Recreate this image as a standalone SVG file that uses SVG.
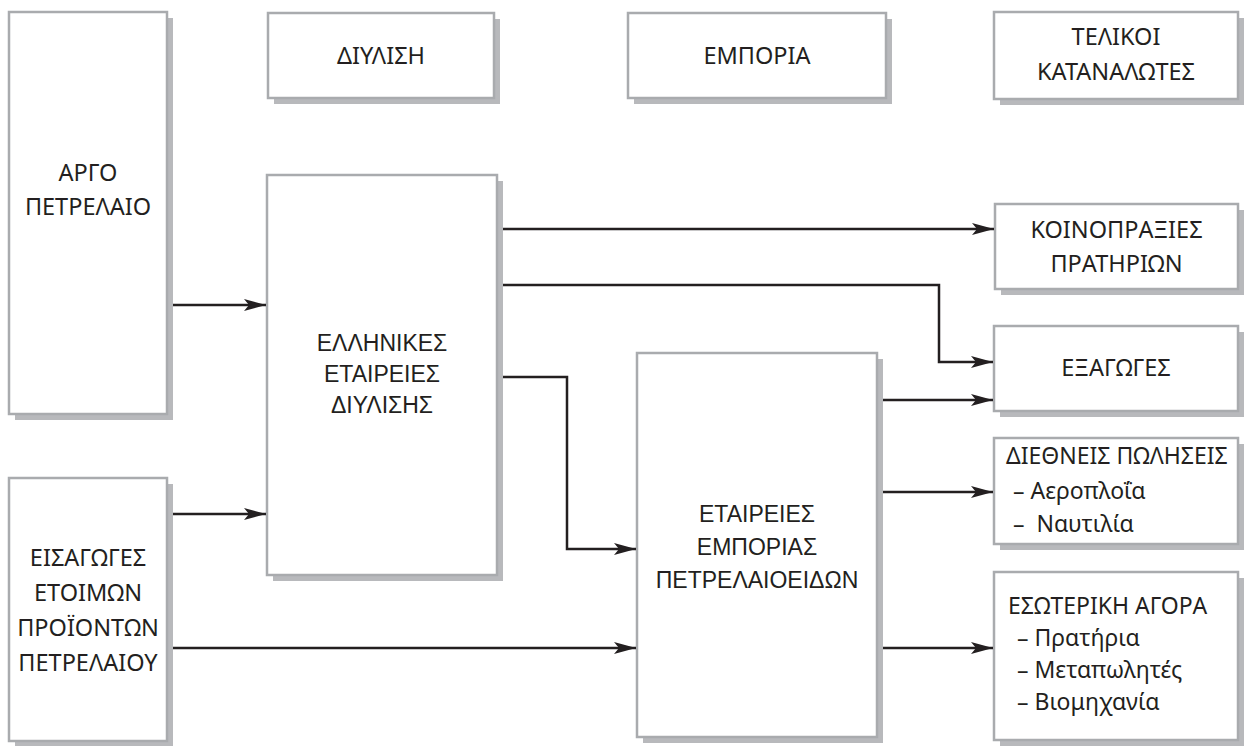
<svg xmlns="http://www.w3.org/2000/svg" width="1251" height="746" viewBox="0 0 1251 746">
<style>
.sh{fill:#b8b9bc}
.bx{fill:#fff;stroke:#a9abae;stroke-width:2.5}
.o{font-family:"Noto Sans","Liberation Sans",sans-serif;font-size:23.5px;fill:#231f20;text-anchor:middle}
.ol{font-family:"Noto Sans","Liberation Sans",sans-serif;font-size:23px;fill:#231f20}
.h{font-family:"Liberation Sans",Arial,sans-serif;font-size:23px;fill:#231f20;text-anchor:middle}
.c{fill:none;stroke:#231f20;stroke-width:2.5;marker-end:url(#ar)}
</style>
<defs>
<marker id="ar" markerUnits="userSpaceOnUse" markerWidth="24" markerHeight="12" refX="22" refY="6" orient="auto">
<path d="M0,0 L22,6 L0,12 L5,6 Z" fill="#231f20"/>
</marker>
</defs>
<rect width="1251" height="746" fill="#fff"/>
<g id="n-diylisi"><rect class="sh" x="274" y="19" width="226" height="85"/><rect class="bx" x="268" y="13" width="226" height="85"/><text class="o" x="381" y="64">ΔΙΥΛΙΣΗ</text></g>
<g id="n-emporia"><rect class="sh" x="634" y="19" width="258" height="85"/><rect class="bx" x="628" y="13" width="258" height="85"/><text class="o" x="757" y="64">ΕΜΠΟΡΙΑ</text></g>
<g id="n-telikoi"><rect class="sh" x="1000" y="18" width="244" height="87"/><rect class="bx" x="994" y="12" width="244" height="87"/><text class="o" x="1116" y="45">ΤΕΛΙΚΟΙ</text><text class="o" x="1116" y="80">ΚΑΤΑΝΑΛΩΤΕΣ</text></g>
<g id="n-argo"><rect class="sh" x="15" y="18" width="158" height="402"/><rect class="bx" x="9" y="12" width="158" height="402"/><text class="o" x="88" y="181">ΑΡΓΟ</text><text class="o" x="88" y="215">ΠΕΤΡΕΛΑΙΟ</text></g>
<g id="n-eisagoges"><rect class="sh" x="15" y="484" width="158" height="262"/><rect class="bx" x="9" y="478" width="158" height="263"/><text class="o" x="88" y="566">ΕΙΣΑΓΩΓΕΣ</text><text class="o" x="88" y="601">ΕΤΟΙΜΩΝ</text><text class="o" x="88" y="636">ΠΡΟΪΟΝΤΩΝ</text><text class="o" x="88" y="671">ΠΕΤΡΕΛΑΙΟΥ</text></g>
<g id="n-ellinikes"><rect class="sh" x="273" y="181" width="230" height="400"/><rect class="bx" x="267" y="175" width="230" height="400"/><text class="h" x="382" y="351">ΕΛΛΗΝΙΚΕΣ</text><text class="h" x="382" y="382">ΕΤΑΙΡΕΙΕΣ</text><text class="h" x="382" y="413">ΔΙΥΛΙΣΗΣ</text></g>
<g id="n-etaireies"><rect class="sh" x="643" y="359" width="240" height="384"/><rect class="bx" x="637" y="353" width="240" height="384"/><text class="h" x="757" y="522">ΕΤΑΙΡΕΙΕΣ</text><text class="h" x="757" y="555">ΕΜΠΟΡΙΑΣ</text><text class="h" x="757" y="588">ΠΕΤΡΕΛΑΙΟΕΙΔΩΝ</text></g>
<g id="n-koinopraxies"><rect class="sh" x="1001" y="210" width="243" height="85"/><rect class="bx" x="995" y="204" width="243" height="85"/><text class="o" x="1116.5" y="238">ΚΟΙΝΟΠΡΑΞΙΕΣ</text><text class="o" x="1116.5" y="272">ΠΡΑΤΗΡΙΩΝ</text></g>
<g id="n-exagoges"><rect class="sh" x="1000" y="332" width="244" height="85"/><rect class="bx" x="994" y="326" width="244" height="85"/><text class="o" x="1116" y="376">ΕΞΑΓΩΓΕΣ</text></g>
<g id="n-diethneis"><rect class="sh" x="1000" y="444" width="244" height="106"/><rect class="bx" x="994" y="438" width="244" height="106"/><text class="ol" x="1006" y="464">ΔΙΕΘΝΕΙΣ ΠΩΛΗΣΕΙΣ</text><text class="ol" x="1013" y="499">– Αεροπλοΐα</text><text class="ol" x="1013" y="532" xml:space="preserve">–  Ναυτιλία</text></g>
<g id="n-esoteriki"><rect class="sh" x="1000" y="578" width="244" height="168"/><rect class="bx" x="994" y="572" width="244" height="168"/><text class="ol" x="1008" y="614">ΕΣΩΤΕΡΙΚΗ ΑΓΟΡΑ</text><text class="ol" x="1017" y="646">– Πρατήρια</text><text class="ol" x="1017" y="678">– Μεταπωλητές</text><text class="ol" x="1017" y="710">– Βιομηχανία</text></g>
<g id="connectors">
<path class="c" d="M173,305 H266"/>
<path class="c" d="M173,514 H266"/>
<path class="c" d="M173,648 H636"/>
<path class="c" d="M503,229 H994"/>
<path class="c" d="M503,285 H939 V362 H993"/>
<path class="c" d="M503,377 H567 V549 H636"/>
<path class="c" d="M883,400 H993"/>
<path class="c" d="M883,492 H993"/>
<path class="c" d="M883,648 H993"/>
</g>
</svg>
